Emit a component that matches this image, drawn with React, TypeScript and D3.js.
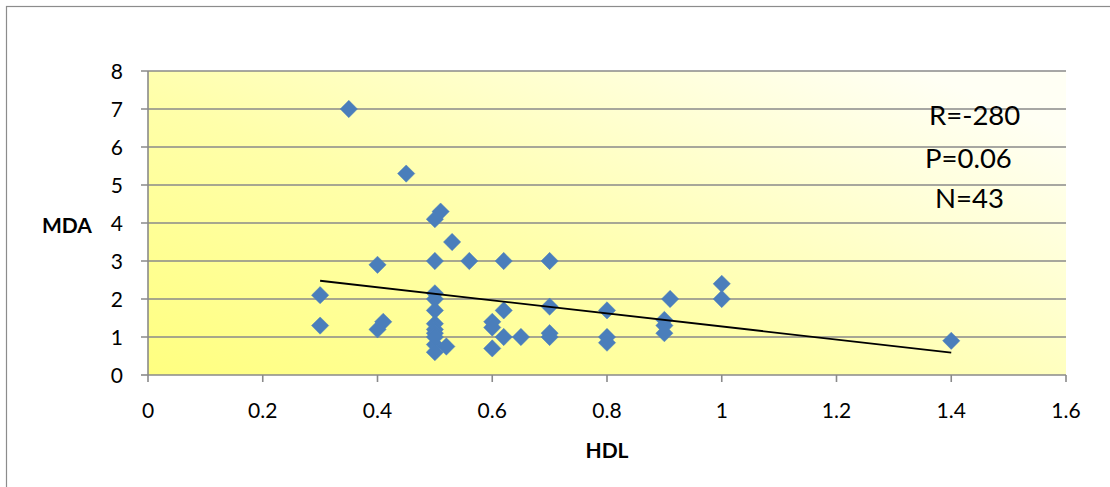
import React from "react";
import * as d3 from "d3";

const hdl = [
  0.3, 0.3, 0.35, 0.4, 0.4, 0.41, 0.45, 0.5, 0.51, 0.53,
  0.5, 0.56, 0.62, 0.7, 0.5, 0.5, 0.5, 0.5, 0.5, 0.5,
  0.5, 0.5, 0.52, 0.5, 0.6, 0.6, 0.62, 0.6, 0.65, 0.62,
  0.7, 0.7, 0.7, 0.8, 0.8, 0.8, 0.91, 0.9, 0.9, 0.9,
  1.0, 1.0, 1.4,
];
const mda = [
  2.1, 1.3, 7.0, 2.9, 1.2, 1.4, 5.3, 4.1, 4.3, 3.5,
  3.0, 3.0, 3.0, 3.0, 2.15, 2.0, 1.7, 1.35, 1.2, 1.1,
  0.8, 0.6, 0.75, 1.0, 1.4, 1.25, 1.0, 0.7, 1.0, 1.7,
  1.8, 1.1, 1.0, 1.7, 1.0, 0.85, 2.0, 1.45, 1.3, 1.1,
  2.4, 2.0, 0.9,
];
const trendX = [0.3, 1.4];
const trendY = [2.48, 0.59];
const xTicks = [0, 0.2, 0.4, 0.6, 0.8, 1, 1.2, 1.4, 1.6];
const yTicks = [0, 1, 2, 3, 4, 5, 6, 7, 8];
const notes = ["R=-280", "P=0.06", "N=43"];

const W = 1110;
const H = 487;
const left = 148;
const right = 1066;
const top = 71;
const bottom = 375;
const font = "Lato, 'Open Sans', 'DejaVu Sans', sans-serif";

export default function App() {
  const x = d3.scaleLinear().domain([0, 1.6]).range([left, right]);
  const y = d3.scaleLinear().domain([0, 8]).range([bottom, top]);
  const diamond = d3.symbol().type(d3.symbolDiamond2).size(190)();
  const line = d3
    .line<number>()
    .x((d) => x(d))
    .y((_, i) => y(trendY[i]));
  const noteX = [929, 925, 935];
  const noteY = [115, 158, 198];

  return (
    <svg
      width={W}
      height={H}
      style={{ position: "absolute", left: 0, top: 0, background: "#fff" }}
    >
      <defs>
        <linearGradient id="bg" x1="0" y1="1" x2="1" y2="0.2">
          <stop offset="0" stopColor="#ffff80" />
          <stop offset="0.45" stopColor="#ffffaa" />
          <stop offset="1" stopColor="#fffff4" />
        </linearGradient>
      </defs>
      <rect x={6.5} y={6.5} width={1300} height={700} fill="#fff" stroke="#8c8c8c" strokeWidth={1.2} />
      <rect x={left} y={top} width={right - left} height={bottom - top} fill="url(#bg)" />
      {yTicks.map((t) => (
        <line
          key={"g" + t}
          x1={left - 7}
          x2={t === 0 ? left : right}
          y1={y(t)}
          y2={y(t)}
          stroke="#8a8a8a"
          strokeWidth={1.6}
        />
      ))}
      <line x1={left} x2={right} y1={bottom} y2={bottom} stroke="#8a8a8a" strokeWidth={1.6} />
      <line x1={left} x2={left} y1={top} y2={bottom} stroke="#8a8a8a" strokeWidth={1.6} />
      {xTicks.map((t) => (
        <line key={"xt" + t} x1={x(t)} x2={x(t)} y1={bottom} y2={bottom + 7} stroke="#8a8a8a" strokeWidth={1.6} />
      ))}
      {yTicks.map((t) => (
        <text
          key={"yl" + t}
          x={123}
          y={y(t)}
          dy="0.36em"
          textAnchor="end"
          fontFamily={font}
          fontSize={21}
          fill="#000"
        >
          {t}
        </text>
      ))}
      {xTicks.map((t) => (
        <text
          key={"xl" + t}
          x={x(t)}
          y={410}
          dy="0.36em"
          textAnchor="middle"
          fontFamily={font}
          fontSize={21}
          fill="#000"
        >
          {String(t)}
        </text>
      ))}
      <text x={42} y={225} dy="0.36em" fontFamily={font} fontSize={21} fontWeight="bold">
        MDA
      </text>
      <text x={(left + right) / 2} y={450} dy="0.36em" textAnchor="middle" fontFamily={font} fontSize={21} fontWeight="bold">
        HDL
      </text>
      {hdl.map((v, i) => (
        <path
          key={"p" + i}
          d={diamond || ""}
          transform={`translate(${x(v)},${y(mda[i])})`}
          fill="#4a7ebb"
          stroke="#4f81bd"
          strokeWidth={0.5}
        />
      ))}
      <path d={line(trendX) || ""} fill="none" stroke="#000" strokeWidth={1.8} />
      {notes.map((n, i) => (
        <text
          key={n}
          x={noteX[i]}
          y={noteY[i]}
          dy="0.36em"
          fontFamily={font}
          fontSize={27.5}
          fill="#000"
        >
          {n}
        </text>
      ))}
    </svg>
  );
}
